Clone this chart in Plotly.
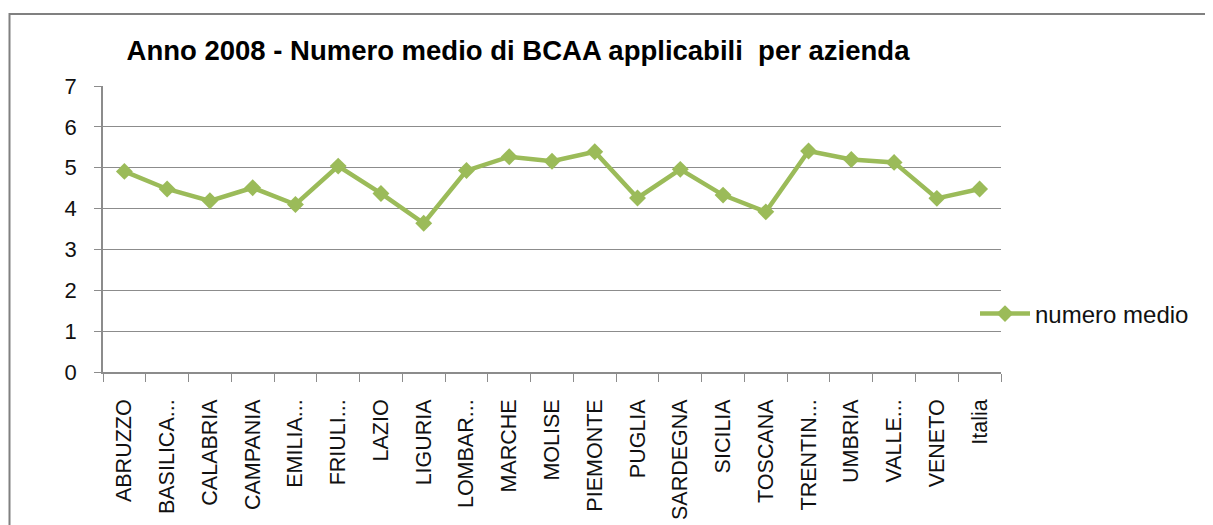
import plotly.graph_objects as go

regions = ["ABRUZZO", "BASILICA...", "CALABRIA", "CAMPANIA", "EMILIA...", "FRIULI...",
           "LAZIO", "LIGURIA", "LOMBAR...", "MARCHE", "MOLISE", "PIEMONTE", "PUGLIA",
           "SARDEGNA", "SICILIA", "TOSCANA", "TRENTIN...", "UMBRIA", "VALLE...",
           "VENETO", "Italia"]
numero_medio = [4.91, 4.48, 4.19, 4.51, 4.10, 5.04, 4.37, 3.64, 4.93, 5.27,
                5.16, 5.39, 4.26, 4.96, 4.33, 3.92, 5.41, 5.20, 5.13, 4.25, 4.48]
y_ticks = [0, 1, 2, 3, 4, 5, 6, 7]

title_text = "Anno 2008 - Numero medio di BCAA applicabili  per azienda"
series_name = "numero medio"

# page body has an 8px default margin: work in screen pixels and shift
OFF = 8
W, H = 1213 - OFF, 525 - OFF
SCR_L, SCR_T, SCR_R, SCR_B = 103, 86, 1001, 372   # plot area in screen px
L, T = SCR_L - OFF, SCR_T - OFF
R, B = W - (SCR_R - OFF), H - (SCR_B - OFF)
pw, ph = W - L - R, H - T - B

def px_x(x):
    return (x - SCR_L) / pw

def px_y(y):
    return (SCR_B - y) / ph

FONT = "Liberation Sans, Arial, sans-serif"
GREEN = "#9BBB59"
GRID = "#8c8c8c"

fig = go.Figure()
fig.add_trace(go.Scatter(
    x=regions, y=numero_medio, mode="lines+markers", name=series_name,
    line=dict(color=GREEN, width=4.5),
    marker=dict(symbol="diamond", size=13, color=GREEN),
))

fig.update_layout(
    width=W, height=H,
    margin=dict(l=L, r=R, t=T, b=B, pad=0, autoexpand=False),
    paper_bgcolor="white", plot_bgcolor="white",
    showlegend=True,
    legend=dict(x=px_x(975), y=px_y(314), xanchor="left", yanchor="middle",
                font=dict(family=FONT, size=24, color="#111111"),
                bgcolor="rgba(0,0,0,0)", itemwidth=50),
    title=dict(text="<b>" + title_text + "</b>", x=px_x(518), xanchor="center",
               xref="paper", y=1 - (50 - OFF) / H, yref="container", yanchor="middle",
               font=dict(family=FONT, size=27.5, color="#000000"), automargin=False),
    xaxis=dict(type="category", showgrid=False, showline=True, linecolor=GRID, linewidth=1.5,
               ticks="outside", tickson="boundaries", ticklen=8, tickcolor=GRID,
               ticklabelstandoff=17, automargin=False,
               tickangle=-90, tickfont=dict(family=FONT, size=21.5, color="#111111"),
               range=[-0.5, len(regions) - 0.5], fixedrange=True),
    yaxis=dict(range=[0, 7], tickvals=y_ticks, showgrid=True, gridcolor=GRID, gridwidth=1.2,
               showline=True, linecolor=GRID, linewidth=1.5, ticks="outside", ticklen=7,
               tickcolor=GRID, zeroline=False, ticklabelstandoff=13, automargin=False,
               tickfont=dict(family=FONT, size=22, color="#111111"), fixedrange=True),
    shapes=[dict(type="rect", xref="paper", yref="paper",
                 x0=px_x(OFF + 1.5), x1=px_x(1230), y0=px_y(545), y1=px_y(14),
                 line=dict(color="#808080", width=2), fillcolor="rgba(0,0,0,0)", layer="below")],
)

fig.write_html("out.html")
